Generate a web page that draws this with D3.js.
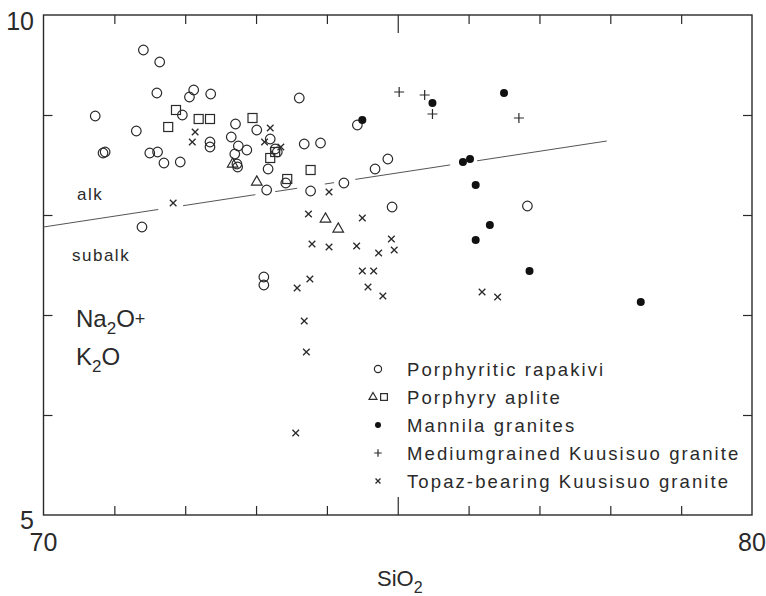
<!DOCTYPE html>
<html>
<head>
<meta charset="utf-8">
<script src="https://cdn.jsdelivr.net/npm/d3@7"></script>
<style>
  body { margin: 0; background: #fff; }
  text { font-family: "Liberation Sans", Arial, Helvetica, sans-serif; fill: #2a2a2a; }
</style>
</head>
<body>
<div id="content"></div>
<script>
// SiO2 / Na2O+K2O values
var rapakivi = [
  [71.41, 9.65], [71.64, 9.53], [71.60, 9.22], [72.12, 9.25], [72.06, 9.18], [72.36, 9.21],
  [70.73, 8.99], [71.96, 9.00], [71.31, 8.84], [70.87, 8.63], [70.84, 8.62], [71.50, 8.62],
  [71.61, 8.63], [71.70, 8.52], [71.93, 8.53], [72.35, 8.73], [72.35, 8.68], [72.71, 8.91],
  [72.65, 8.78], [72.75, 8.69], [72.87, 8.65], [72.70, 8.61], [72.73, 8.51], [72.74, 8.48],
  [73.01, 8.85], [73.20, 8.76], [73.17, 8.46], [73.15, 8.25], [73.27, 8.66], [73.30, 8.63],
  [73.42, 8.32], [73.61, 9.17], [74.43, 8.90], [73.68, 8.71], [73.91, 8.72], [74.68, 8.46],
  [74.86, 8.56], [73.77, 8.24], [74.24, 8.32], [74.92, 8.08], [76.83, 8.09], [71.39, 7.88],
  [73.11, 7.38], [73.11, 7.30]
];
var aplSquare = [
  [71.87, 9.05], [71.76, 8.88], [72.19, 8.96], [72.35, 8.96], [72.95, 8.97], [73.20, 8.57],
  [73.27, 8.63], [73.44, 8.36], [73.77, 8.45]
];
var aplTriangle = [[72.67, 8.51], [73.01, 8.33], [73.98, 7.96], [74.16, 7.86]];
var mannila = [
  [74.50, 8.95], [75.49, 9.12], [76.50, 9.22], [75.92, 8.53], [76.02, 8.56], [76.10, 8.30],
  [76.30, 7.90], [76.10, 7.75], [76.86, 7.44], [78.43, 7.13]
];
var mediumKuusisuo = [[75.02, 9.23], [75.38, 9.20], [75.49, 9.01], [76.71, 8.97]];
var topazKuusisuo = [
  [72.14, 8.83], [72.10, 8.73], [73.20, 8.87], [73.12, 8.73], [73.35, 8.68], [71.83, 8.12],
  [74.03, 8.23], [73.74, 8.01], [74.50, 7.97], [73.79, 7.71], [74.03, 7.68], [74.42, 7.69],
  [74.91, 7.76], [74.95, 7.65], [74.73, 7.62], [74.50, 7.44], [74.66, 7.44], [74.58, 7.28],
  [74.79, 7.19], [73.76, 7.36], [73.58, 7.27], [73.68, 6.94], [73.71, 6.63], [73.56, 5.82],
  [76.19, 7.23], [76.41, 7.18]
];
// alkaline / subalkaline divide, with the breaks seen in the original line
var divideEnds = [[70, 7.88], [77.95, 8.74]];
var divideGaps = [[71.62, 71.97], [72.99, 73.27], [73.58, 73.97], [74.10, 74.40], [75.74, 76.12]];

var xTicks = [70, 71, 72, 73, 74, 75, 76, 77, 78, 79, 80];
var yTicks = [5, 6, 7, 8, 9, 10];
var legendLabels = ["Porphyritic rapakivi", "Porphyry aplite", "Mannila granites",
  "Mediumgrained Kuusisuo granite", "Topaz-bearing Kuusisuo granite"];

var width = 766, height = 596;
var ink = "#2a2a2a";
var svg = d3.select('#content').append('svg').attr('width', width).attr('height', height);

var x = d3.scaleLinear().domain([70, 80]).range([43.5, 752]);
var y = d3.scaleLinear().domain([5, 10]).range([515, 15]);

// frame
svg.append('rect')
  .attr('x', x(70)).attr('y', y(10))
  .attr('width', x(80) - x(70)).attr('height', y(5) - y(10))
  .style('fill', 'none').style('stroke', ink).style('stroke-width', 1.4);

// inward ticks on all four sides
var inner = xTicks.slice(1, -1);
svg.append('g').call(d3.axisTop(x).tickValues(inner).tickSize(9).tickFormat(''))
  .attr('transform', 'translate(0,' + y(5) + ')');
svg.append('g').call(d3.axisBottom(x).tickValues(inner).tickSize(9).tickFormat(''))
  .attr('transform', 'translate(0,' + y(10) + ')');
svg.append('g').call(d3.axisRight(y).tickValues(yTicks.slice(1, -1)).tickSize(9).tickFormat(''))
  .attr('transform', 'translate(' + x(70) + ',0)');
svg.append('g').call(d3.axisLeft(y).tickValues(yTicks.slice(1, -1)).tickSize(9).tickFormat(''))
  .attr('transform', 'translate(' + x(80) + ',0)');
svg.selectAll('.domain').remove();
svg.selectAll('.tick line').style('stroke', ink).style('stroke-width', 1.2);
// the 75 tick is longer
svg.selectAll('.tick').filter(function(d){ return d === 75; }).select('line')
  .attr('y2', function(){ return +d3.select(this).attr('y2') * 2; });

// corner labels
svg.append('text').attr('x', x(70)).attr('y', 551).attr('text-anchor', 'middle')
  .style('font-size', '25px').text(xTicks[0]);
svg.append('text').attr('x', x(80)).attr('y', 551).attr('text-anchor', 'middle')
  .style('font-size', '25px').text(xTicks[xTicks.length - 1]);
svg.append('text').attr('x', 34).attr('y', y(10) + 15).attr('text-anchor', 'end')
  .style('font-size', '25px').text(yTicks[yTicks.length - 1]);
svg.append('text').attr('x', 34).attr('y', y(5) + 14).attr('text-anchor', 'end')
  .style('font-size', '25px').text(yTicks[0]);

var xl = svg.append('text').attr('x', 377).attr('y', 586).style('font-size', '22px');
xl.append('tspan').text('SiO');
xl.append('tspan').attr('dy', 7).style('font-size', '16px').text('2');

// axis-style label inside plot
var na = svg.append('text').attr('x', 76).attr('y', 327).style('font-size', '24px');
na.append('tspan').text('Na');
na.append('tspan').attr('dy', 7).style('font-size', '17px').text('2');
na.append('tspan').attr('dy', -7).text('O');
na.append('tspan').style('font-size', '18px').attr('dy', -2).text('+');
var ko = svg.append('text').attr('x', 76).attr('y', 365).style('font-size', '24px');
ko.append('tspan').text('K');
ko.append('tspan').attr('dy', 7).style('font-size', '17px').text('2');
ko.append('tspan').attr('dy', -7).text('O');

svg.append('text').attr('x', 77).attr('y', 200).style('font-size', '17px')
  .style('letter-spacing', '1.5px').text('alk');
svg.append('text').attr('x', 72).attr('y', 261).style('font-size', '17px')
  .style('letter-spacing', '1.5px').text('subalk');

// divide line, broken where it meets points/labels
var segs = [];
var lo = divideEnds[0][0];
divideGaps.forEach(function(g){ segs.push([lo, g[0]]); lo = g[1]; });
segs.push([lo, divideEnds[1][0]]);
var divY = d3.scaleLinear().domain([divideEnds[0][0], divideEnds[1][0]])
  .range([divideEnds[0][1], divideEnds[1][1]]);
svg.selectAll('.divide').data(segs).enter().append('line')
  .attr('class', 'divide')
  .attr('x1', function(d){ return x(d[0]); }).attr('y1', function(d){ return y(divY(d[0])); })
  .attr('x2', function(d){ return x(d[1]); }).attr('y2', function(d){ return y(divY(d[1])); })
  .style('stroke', '#555').style('stroke-width', 1);

// marker drawers
function crossPath(s) {
  return 'M' + -s + ',' + -s + 'L' + s + ',' + s + 'M' + -s + ',' + s + 'L' + s + ',' + -s;
}
function plusPath(s) {
  return 'M' + -s + ',0L' + s + ',0M0,' + -s + 'L0,' + s;
}
var markers = {
  circle: function(sel, k) {
    sel.append('circle').attr('r', 4.8 * k).style('fill', 'none').style('stroke', ink).style('stroke-width', 1.2);
  },
  square: function(sel, k) {
    sel.append('rect').attr('x', -4.5 * k).attr('y', -4.5 * k).attr('width', 9 * k).attr('height', 9 * k)
      .style('fill', 'none').style('stroke', ink).style('stroke-width', 1.2);
  },
  triangle: function(sel, k) {
    sel.append('path').attr('d', d3.symbol().type(d3.symbolTriangle).size(48 * k * k)())
      .style('fill', 'none').style('stroke', ink).style('stroke-width', 1.2);
  },
  dot: function(sel, k) {
    sel.append('circle').attr('r', 4 * k).style('fill', '#111');
  },
  plus: function(sel, k) {
    sel.append('path').attr('d', plusPath(5 * k)).style('stroke', ink).style('stroke-width', 1.2);
  },
  cross: function(sel, k) {
    sel.append('path').attr('d', crossPath(3.3 * k)).style('stroke', ink).style('stroke-width', 1.3);
  }
};

function plot(data, kind) {
  var g = svg.append('g').selectAll('g').data(data).enter().append('g')
    .attr('transform', function(d){ return 'translate(' + x(d[0]) + ',' + y(d[1]) + ')'; });
  markers[kind](g, 1);
}
plot(rapakivi, 'circle');
plot(aplSquare, 'square');
plot(aplTriangle, 'triangle');
plot(mannila, 'dot');
plot(mediumKuusisuo, 'plus');
plot(topazKuusisuo, 'cross');

// legend
var legendKinds = [['circle'], ['triangle', 'square'], ['dot'], ['plus'], ['cross']];
var legend = svg.selectAll('.legend').data(legendLabels).enter().append('g')
  .attr('class', 'legend')
  .attr('transform', function(d, i){ return 'translate(378,' + (369 + i * 28) + ')'; });
legend.each(function(d, i){
  var g = d3.select(this);
  var kinds = legendKinds[i];
  kinds.forEach(function(k, j){
    var s = g.append('g').attr('transform', 'translate(' + (kinds.length > 1 ? (j === 0 ? -5 : 6) : 0) + ',0)');
    markers[k](s, 0.75);
  });
});
legend.append('text').attr('x', 29).attr('y', 7)
  .style('font-size', '18.5px').style('letter-spacing', '2.1px')
  .text(function(d){ return d; });
</script>
</body>
</html>
